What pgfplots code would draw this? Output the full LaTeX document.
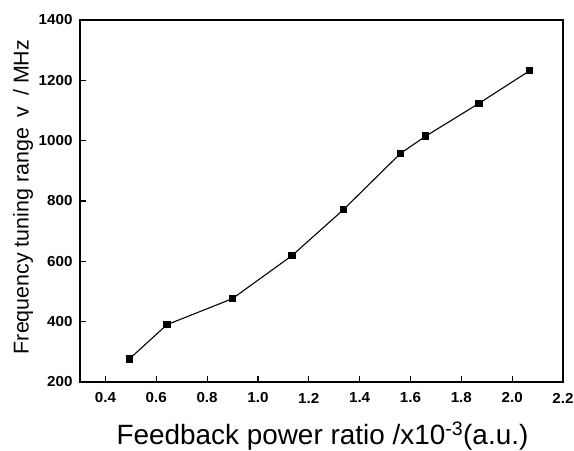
\documentclass[border=0pt]{standalone}
\usepackage{pgfplots}
\pgfplotsset{compat=1.18}
\usepackage{fontspec}
\setmainfont{Liberation Sans}
\newfontfamily\tickfont{Liberation Sans Bold}[FakeStretch=1.05]

\begin{document}
\begin{tikzpicture}[x=1bp,y=1bp]
\useasboundingbox (-80bp,-69bp) rectangle (494bp,382bp);
\begin{axis}[
  at={(0,0)}, anchor=south west,
  scale only axis,
  width=483bp, height=362bp,
  xmin=0.3, xmax=2.2, ymin=200, ymax=1400,
  xtick={0.4,0.6,0.8,1.0,1.2,1.4,1.6,1.8,2.0,2.2},
  xticklabels={0.4,0.6,0.8,1.0,1.2,1.4,1.6,1.8,2.0,2.2},
  ytick={200,400,600,800,1000,1200,1400},
  yticklabels={200,400,600,800,1000,1200,1400},
  tick label style={font=\fontsize{14.5}{14.5}\tickfont},
  xticklabel style={anchor=center, yshift=-16bp},
  yticklabel style={anchor=east, xshift=-4bp},
  tick align=inside, tick pos=left,
  major tick length=6bp,
  axis line style={line width=1.6pt},
  every tick/.style={line width=1.2pt, black},
  xlabel={Feedback power ratio /x10\textsuperscript{-3}(a.u.)},
  ylabel={Frequency tuning range\enspace v\enspace / MHz},
  xlabel style={font=\fontsize{28}{28}\selectfont,
    at={(axis description cs:0.502,-0.174)}, anchor=base},
  ylabel style={font=\fontsize{21.5}{21.5}\selectfont,
    at={(axis description cs:-0.118,0.511)}, anchor=center},
]
\addplot[black, line width=1.1pt, mark=square*, mark size=3.2pt]
  coordinates {
    (0.495,277) (0.642,390) (0.899,476) (1.134,619) (1.337,772)
    (1.561,958) (1.660,1015) (1.870,1124) (2.069,1232)
  };
\end{axis}
\end{tikzpicture}
\end{document}
